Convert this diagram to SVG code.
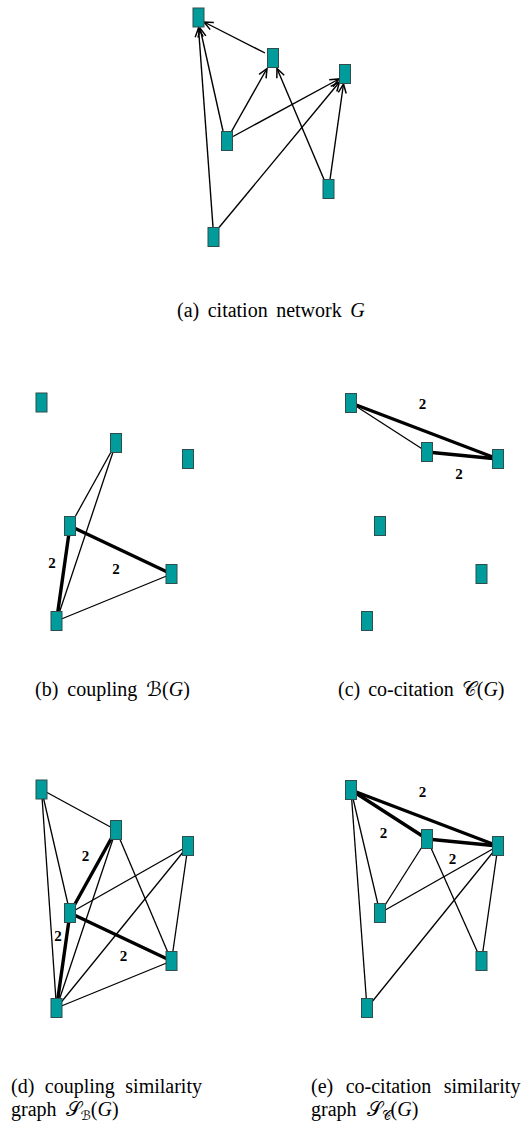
<svg xmlns="http://www.w3.org/2000/svg" width="532" height="1124" viewBox="0 0 532 1124">
<style>
.n{fill:#009b9b;stroke:#2f4f4f;stroke-width:1}
.e{stroke:#000;stroke-width:1.3;fill:none}
.t{stroke:#000;stroke-width:3.4;fill:none;stroke-linecap:round}
.a{stroke:#000;stroke-width:1.4;fill:none;marker-end:url(#arr)}
.w{font-family:"Liberation Serif","Times New Roman",serif;font-weight:bold;font-size:15px;text-anchor:middle}
.c{font-family:"Liberation Serif","Times New Roman",serif;font-size:20px}
.i{font-style:italic}
.s{font-family:"Liberation Serif","DejaVu Serif","DejaVu Sans",serif;font-style:normal}
.sub{font-size:13px}
</style>
<defs>
<marker id="arr" markerUnits="userSpaceOnUse" markerWidth="12" markerHeight="10" refX="9" refY="4" orient="auto" overflow="visible">
<path d="M0,0 L9,4 L0,8" fill="none" stroke="#000" stroke-width="1.5"/>
</marker>
<rect id="nd" x="-5.5" y="-9.5" width="11" height="19"/>
</defs>

<g id="connectors">
<!-- (a) citation network -->
<path class="a" d="M265,53 L204,22"/>
<path class="a" d="M223,131 L200,28"/>
<path class="a" d="M213,227 L198.5,28"/>
<path class="a" d="M231.5,131.5 L267,68.5"/>
<path class="a" d="M324,179.5 L277,68.5"/>
<path class="a" d="M233,136.5 L339,79"/>
<path class="a" d="M219,227.5 L339.5,82"/>
<path class="a" d="M330,179.5 L343.5,84"/>
<!-- (b) coupling -->
<line class="e" x1="116" y1="443" x2="70" y2="526"/>
<line class="e" x1="116" y1="443" x2="56.5" y2="621"/>
<line class="t" x1="70" y1="526" x2="56.5" y2="621"/>
<line class="t" x1="70" y1="526" x2="171.5" y2="574"/>
<line class="e" x1="56.5" y1="621" x2="171.5" y2="574"/>
<!-- (c) co-citation -->
<line class="t" x1="351" y1="403" x2="498" y2="459"/>
<line class="e" x1="351" y1="403" x2="427" y2="452"/>
<line class="t" x1="427" y1="452" x2="498" y2="459"/>
<!-- (d) coupling similarity -->
<line class="e" x1="41.5" y1="789.5" x2="116" y2="830"/>
<line class="e" x1="41.5" y1="789.5" x2="70" y2="913"/>
<line class="e" x1="41.5" y1="789.5" x2="56.5" y2="1008"/>
<line class="t" x1="116" y1="830" x2="70" y2="913"/>
<line class="e" x1="116" y1="830" x2="56.5" y2="1008"/>
<line class="e" x1="116" y1="830" x2="171.5" y2="961"/>
<line class="e" x1="188" y1="846" x2="70" y2="913"/>
<line class="e" x1="188" y1="846" x2="56.5" y2="1008"/>
<line class="e" x1="188" y1="846" x2="171.5" y2="961"/>
<line class="t" x1="70" y1="913" x2="56.5" y2="1008"/>
<line class="t" x1="70" y1="913" x2="171.5" y2="961"/>
<line class="e" x1="56.5" y1="1008" x2="171.5" y2="961"/>
<!-- (e) co-citation similarity -->
<line class="t" x1="351" y1="790" x2="427" y2="839"/>
<line class="t" x1="351" y1="790" x2="498" y2="846"/>
<line class="t" x1="427" y1="839" x2="498" y2="846"/>
<line class="e" x1="351" y1="790" x2="380" y2="913"/>
<line class="e" x1="351" y1="790" x2="367" y2="1008"/>
<line class="e" x1="427" y1="839" x2="380" y2="913"/>
<line class="e" x1="498" y1="846" x2="380" y2="913"/>
<line class="e" x1="498" y1="846" x2="367" y2="1008"/>
<line class="e" x1="427" y1="839" x2="481.5" y2="961"/>
<line class="e" x1="498" y1="846" x2="481.5" y2="961"/>
</g>

<g id="weights">
<text class="w" x="52" y="568">2</text>
<text class="w" x="116" y="574">2</text>
<text class="w" x="422.5" y="409">2</text>
<text class="w" x="459" y="479">2</text>
<text class="w" x="85.5" y="861">2</text>
<text class="w" x="58" y="941">2</text>
<text class="w" x="123.5" y="961">2</text>
<text class="w" x="422.5" y="797">2</text>
<text class="w" x="383.5" y="838">2</text>
<text class="w" x="452.5" y="864">2</text>
</g>

<g id="a1"><use href="#nd" class="n" x="198.5" y="17.5"/></g>
<g id="a2"><use href="#nd" class="n" x="273" y="58"/></g>
<g id="a3"><use href="#nd" class="n" x="345" y="74"/></g>
<g id="a4"><use href="#nd" class="n" x="227" y="141"/></g>
<g id="a5"><use href="#nd" class="n" x="328.5" y="189"/></g>
<g id="a6"><use href="#nd" class="n" x="213.5" y="237"/></g>

<g id="b1"><use href="#nd" class="n" x="41.5" y="402.5"/></g>
<g id="b2"><use href="#nd" class="n" x="116" y="443"/></g>
<g id="b3"><use href="#nd" class="n" x="188" y="459"/></g>
<g id="b4"><use href="#nd" class="n" x="70" y="526"/></g>
<g id="b5"><use href="#nd" class="n" x="171.5" y="574"/></g>
<g id="b6"><use href="#nd" class="n" x="56.5" y="621"/></g>

<g id="c1"><use href="#nd" class="n" x="351" y="403"/></g>
<g id="c2"><use href="#nd" class="n" x="427" y="452"/></g>
<g id="c3"><use href="#nd" class="n" x="498" y="459"/></g>
<g id="c4"><use href="#nd" class="n" x="380" y="526"/></g>
<g id="c5"><use href="#nd" class="n" x="481.5" y="574"/></g>
<g id="c6"><use href="#nd" class="n" x="367" y="621"/></g>

<g id="d1"><use href="#nd" class="n" x="41.5" y="789.5"/></g>
<g id="d2"><use href="#nd" class="n" x="116" y="830"/></g>
<g id="d3"><use href="#nd" class="n" x="188" y="846"/></g>
<g id="d4"><use href="#nd" class="n" x="70" y="913"/></g>
<g id="d5"><use href="#nd" class="n" x="171.5" y="961"/></g>
<g id="d6"><use href="#nd" class="n" x="56.5" y="1008"/></g>

<g id="e1"><use href="#nd" class="n" x="351" y="790"/></g>
<g id="e2"><use href="#nd" class="n" x="427" y="839"/></g>
<g id="e3"><use href="#nd" class="n" x="498" y="846"/></g>
<g id="e4"><use href="#nd" class="n" x="380" y="913"/></g>
<g id="e5"><use href="#nd" class="n" x="481.5" y="961"/></g>
<g id="e6"><use href="#nd" class="n" x="367" y="1008"/></g>

<g id="captions">
<text class="c" x="177" y="317" word-spacing="3.5">(a) citation network <tspan class="i">G</tspan></text>
<text class="c" x="35" y="696" word-spacing="4">(b) coupling <tspan class="s">ℬ</tspan>(<tspan class="i">G</tspan>)</text>
<text class="c" x="338" y="696" word-spacing="3">(c) co-citation <tspan class="s">𝒞</tspan>(<tspan class="i">G</tspan>)</text>
<text class="c" x="11" y="1093" word-spacing="5.5">(d) coupling similarity</text>
<text class="c" x="11" y="1116" word-spacing="4">graph <tspan class="s">𝒮</tspan><tspan class="s sub" dy="4">ℬ</tspan><tspan dy="-4">(</tspan><tspan class="i">G</tspan>)</text>
<text class="c" x="311" y="1093" word-spacing="7.5">(e) co-citation similarity</text>
<text class="c" x="311" y="1116" word-spacing="5">graph <tspan class="s">𝒮</tspan><tspan class="s sub" dy="4">𝒞</tspan><tspan dy="-4">(</tspan><tspan class="i">G</tspan>)</text>
</g>
</svg>
